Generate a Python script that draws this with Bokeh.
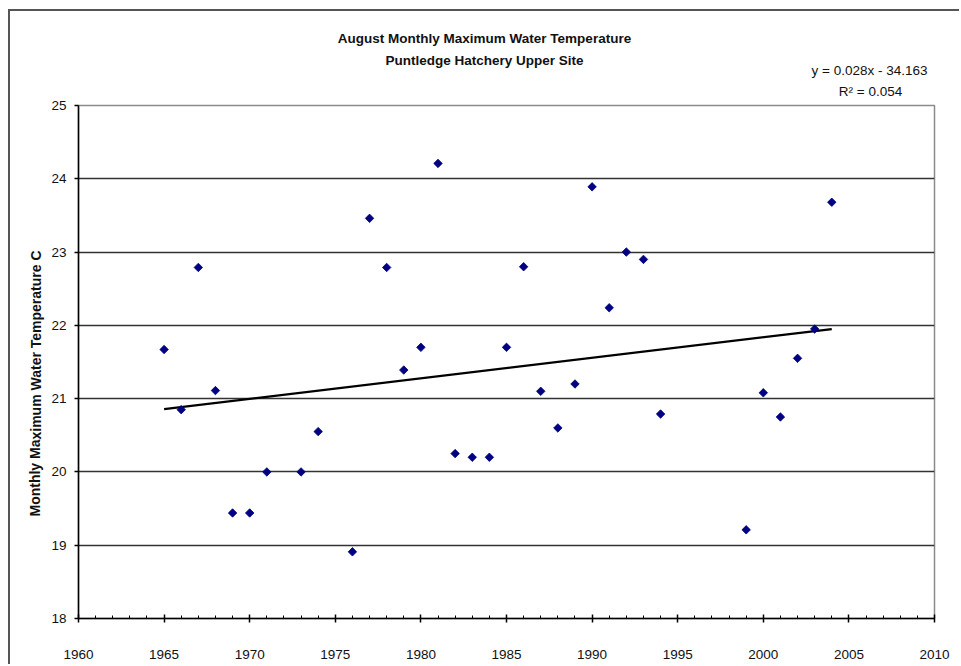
import math
from bokeh.plotting import figure
from bokeh.models import Range1d, FixedTicker, Label, LinearAxis, Grid
from bokeh.embed import file_html
from bokeh.resources import INLINE

# ---- data ----
years = [1965, 1966, 1967, 1968, 1969, 1970, 1971, 1973, 1974, 1976, 1977, 1978,
         1979, 1980, 1981, 1982, 1983, 1984, 1985, 1986, 1987, 1988, 1989, 1990,
         1991, 1992, 1993, 1994, 1999, 2000, 2001, 2002, 2003, 2004]
temps = [21.67, 20.85, 22.79, 21.11, 19.44, 19.44, 20.00, 20.00, 20.55, 18.91, 23.46, 22.79,
         21.39, 21.70, 24.21, 20.25, 20.20, 20.20, 21.70, 22.80, 21.10, 20.60, 21.20, 23.89,
         22.24, 23.00, 22.90, 20.79, 19.21, 21.08, 20.75, 21.55, 21.95, 23.68]
trend_slope = 0.028
trend_intercept = -34.163
r_squared = 0.054
x_ticks = [1960, 1965, 1970, 1975, 1980, 1985, 1990, 1995, 2000, 2005, 2010]
y_ticks = [18, 19, 20, 21, 22, 23, 24, 25]
title_lines = ["August Monthly Maximum Water Temperature", "Puntledge Hatchery Upper Site"]
y_label = "Monthly Maximum Water Temperature C"

FONT = "Liberation Sans"
TXT = "#111111"
FS = 13.5

p = figure(width=951, height=655, output_backend="svg", toolbar_location=None,
           x_range=Range1d(1960, 2010), y_range=Range1d(18, 25),
           min_border_left=68, min_border_right=27, min_border_top=94, min_border_bottom=48,
           x_axis_location=None, y_axis_location=None)
p.margin = (9, 0, 0, 8)
p.styles = {"border-left": "2px solid #555", "border-top": "2px solid #555"}
p.background_fill_color = "white"
p.border_fill_color = "white"
p.outline_line_color = "#8a8a8a"
p.outline_line_width = 1.5

# axes
xa = LinearAxis(ticker=FixedTicker(ticks=x_ticks, minor_ticks=list(range(1960, 2011))))
xa.axis_line_color = "black"
xa.axis_line_width = 1.5
xa.major_tick_in = 4
xa.major_tick_out = 4
xa.major_tick_line_width = 1.5
xa.minor_tick_in = 3
xa.minor_tick_out = 0
xa.minor_tick_line_width = 1
xa.major_label_standoff = 27
xa.major_label_text_font = FONT
xa.major_label_text_font_size = "%gpx" % FS
xa.major_label_text_color = TXT
p.add_layout(xa, "below")

ya = LinearAxis(ticker=FixedTicker(ticks=y_ticks, minor_ticks=[]))
ya.axis_line_color = "black"
ya.axis_line_width = 1.5
ya.major_tick_in = 0
ya.major_tick_out = 4
ya.major_tick_line_width = 1.5
ya.minor_tick_line_color = None
ya.major_label_standoff = 8
ya.major_label_text_font = FONT
ya.major_label_text_font_size = "%gpx" % FS
ya.major_label_text_color = TXT
p.add_layout(ya, "left")

p.xgrid.visible = False
p.ygrid.visible = False
g = Grid(dimension=1, ticker=FixedTicker(ticks=y_ticks[1:-1]))
g.grid_line_color = "#333333"
g.grid_line_width = 1.6
p.add_layout(g)

# trend line
tx = [years[0], years[-1]]
ty = [trend_slope * x + trend_intercept for x in tx]
p.line(tx, ty, line_color="black", line_width=2.2)

# points (square turned 45 degrees -> diamond)
p.scatter(years, temps, marker="square", angle=math.pi / 4, size=6,
          fill_color="#000080", line_color="#000080", line_width=0.8)

# title & equation: each label sits in its own stacked panel above the frame
STEP = 1.19 * FS
def above_label(k, x, y, text, align, bold):
    p.add_layout(Label(x=x, y=y - k * STEP, x_units="screen", y_units="screen", text=text,
                       text_align=align, text_baseline="middle", text_font=FONT,
                       text_font_style="bold" if bold else "normal",
                       text_font_size="%gpx" % FS, text_color=TXT), "above")

above_label(0, 406, 67, title_lines[0], "center", True)
above_label(1, 406, 46, title_lines[1], "center", True)
above_label(2, 849, 37, "y = %.3fx - %.3f" % (trend_slope, -trend_intercept), "right", False)
above_label(3, 792, 17, "R² = %.3f" % r_squared, "center", False)

p.add_layout(Label(x=3, y=235, x_units="screen", y_units="screen", text=y_label, angle=1.5707963,
                   text_align="center", text_baseline="middle", text_font=FONT,
                   text_font_style="bold", text_font_size="14px", text_color=TXT), "left")

open("out.html", "w").write(file_html(p, INLINE))
